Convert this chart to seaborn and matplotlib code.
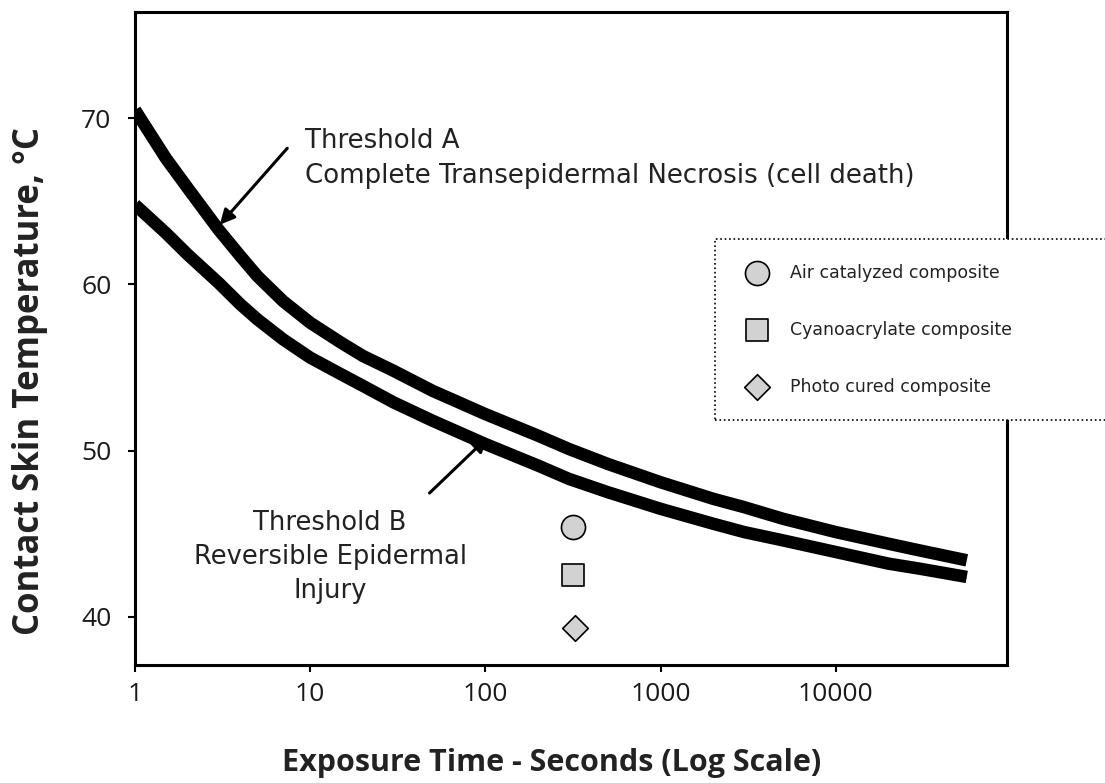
import numpy as np
import pandas as pd
import matplotlib
matplotlib.use("Agg")
import matplotlib.pyplot as plt
import seaborn as sns

# ---- data ----
time_s = [1, 1.5, 2, 3, 4, 5, 7, 10, 15, 20, 30, 50, 100, 200, 300, 500,
          1000, 2000, 3000, 5000, 10000, 20000, 30000, 56000]
threshold_a = [70.5, 67.6, 65.8, 63.3, 61.7, 60.5, 59.0, 57.7, 56.5, 55.7, 54.8, 53.6,
               52.2, 50.9, 50.1, 49.2, 48.1, 47.1, 46.6, 45.9, 45.1, 44.4, 44.0, 43.4]
threshold_b = [64.8, 63.1, 61.8, 60.1, 58.8, 57.9, 56.7, 55.6, 54.6, 53.9, 52.9, 51.8,
               50.4, 49.1, 48.3, 47.5, 46.5, 45.6, 45.1, 44.6, 43.9, 43.2, 42.9, 42.4]

materials = ["Air catalyzed composite", "Cyanoacrylate composite", "Photo cured composite"]
material_time = [315, 318, 325]
material_temp = [45.4, 42.5, 39.3]
material_markers = ["o", "s", "D"]
material_sizes = [300, 230, 170]

x_ticks = [1, 10, 100, 1000, 10000]
x_tick_labels = ["1", "10", "100", "1000", "10000"]
y_ticks = [40, 50, 60, 70]

sns.set_theme(style="white")
plt.rcParams["font.family"] = ["Open Sans", "DejaVu Sans"]

fig = plt.figure(figsize=(11.05, 7.83), dpi=100)
ax = fig.add_axes([135 / 1105, 1 - 665 / 783, (1007 - 135) / 1105, (665 - 12) / 783])

curves = pd.DataFrame({"time": time_s, "A": threshold_a, "B": threshold_b})
for col in ["A", "B"]:
    sns.lineplot(data=curves, x="time", y=col, ax=ax, color="black",
                 linewidth=9, solid_capstyle="butt", solid_joinstyle="round", legend=False)

mat = pd.DataFrame({"material": materials, "time": material_time, "temp": material_temp})
for i, row in mat.iterrows():
    sns.scatterplot(x=[row["time"]], y=[row["temp"]], ax=ax, marker=material_markers[i],
                    s=material_sizes[i], color="#d2d2d2", edgecolor="black",
                    linewidth=1.2, label=row["material"], zorder=5)

ax.set_xscale("log")
ax.set_xlim(1, 95000)
ax.set_ylim(37.1, 76.4)
ax.set_xticks(x_ticks)
ax.set_xticklabels(x_tick_labels)
ax.xaxis.set_minor_locator(matplotlib.ticker.NullLocator())
ax.set_yticks(y_ticks)

for s in ax.spines.values():
    s.set_visible(True)
    s.set_color("black")
    s.set_linewidth(2.2)

ax.tick_params(axis="both", which="major", direction="out", length=5, width=1.5,
               color="black", labelsize=19, labelcolor="#1a1a1a", pad=7,
               bottom=True, left=True)
ax.tick_params(axis="y", pad=12)

ax.set_xlabel("Exposure Time - Seconds (Log Scale)", fontsize=22, fontweight="bold",
              color="#222222")
ax.set_ylabel("Contact Skin Temperature, \u00b0C", fontsize=25, fontweight="bold",
              color="#222222")
ax.xaxis.set_label_coords(0.478, -0.127)
ax.yaxis.set_label_coords(-0.10, 0.435)

ann_font = ["DejaVu Sans"]
ax.text(9.3, 67.6, "Threshold A\nComplete Transepidermal Necrosis (cell death)",
        ha="left", va="center", fontsize=18.7, family=ann_font, color="#222222",
        linespacing=1.45)
ax.annotate("", xy=(3.05, 63.6), xytext=(7.4, 68.2),
            arrowprops=dict(arrowstyle="-|>", color="black", lw=2.2, mutation_scale=22,
                            shrinkA=0, shrinkB=0))

ax.text(13.0, 43.6, "Threshold B\nReversible Epidermal\nInjury",
        ha="center", va="center", fontsize=18.5, family=ann_font, color="#222222",
        linespacing=1.42)
ax.annotate("", xy=(103, 50.8), xytext=(48, 47.45),
            arrowprops=dict(arrowstyle="-|>", color="black", lw=2.2, mutation_scale=22,
                            shrinkA=0, shrinkB=0))

leg = ax.legend(loc="upper left", bbox_to_anchor=(0.665, 0.372, 0.46, 0.28),
                mode="expand", borderaxespad=0, frameon=True, fancybox=False,
                labelspacing=2.25, handletextpad=0.9, borderpad=1.4,
                prop={"family": ann_font, "size": 12.5}, handlelength=2.0)
frame = leg.get_frame()
frame.set_linestyle(":")
frame.set_edgecolor("black")
frame.set_linewidth(1.2)
frame.set_facecolor("white")
frame.set_alpha(1)
for t in leg.get_texts():
    t.set_color("#222222")
leg.set_zorder(10)

fig.savefig("out.png", dpi=100)
